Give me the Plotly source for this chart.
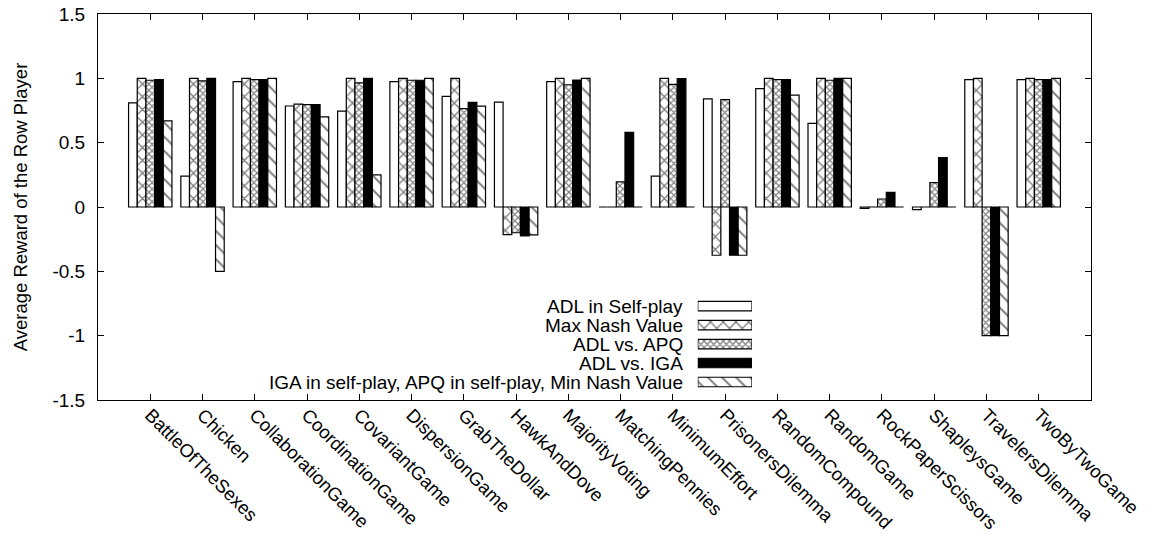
import plotly.graph_objects as go

categories = ["BattleOfTheSexes", "Chicken", "CollaborationGame", "CoordinationGame",
              "CovariantGame", "DispersionGame", "GrabTheDollar", "HawkAndDove",
              "MajorityVoting", "MatchingPennies", "MinimumEffort", "PrisonersDilemma",
              "RandomCompound", "RandomGame", "RockPaperScissors", "ShapleysGame",
              "TravelersDilemma", "TwoByTwoGame"]

adl_self = [0.81, 0.24, 0.975, 0.785, 0.745, 0.975, 0.86, 0.815, 0.975, 0.0, 0.24, 0.84,
            0.92, 0.65, -0.01, -0.02, 0.99, 0.99]
max_nash = [1.0, 1.0, 1.0, 0.80, 1.0, 1.0, 1.0, -0.215, 1.0, 0.0, 1.0, -0.375,
            1.0, 1.0, 0.0, 0.0, 1.0, 1.0]
adl_apq = [0.985, 0.98, 0.99, 0.795, 0.965, 0.985, 0.765, -0.2, 0.95, 0.195, 0.953, 0.835,
           0.99, 0.985, 0.062, 0.19, -1.0, 0.99]
adl_iga = [0.99, 1.0, 0.99, 0.795, 1.0, 0.985, 0.813, -0.224, 0.987, 0.58, 0.998, -0.375,
           0.99, 1.0, 0.114, 0.384, -1.0, 0.99]
min_nash = [0.67, -0.5, 1.0, 0.70, 0.25, 1.0, 0.784, -0.216, 1.0, 0.0, 0.0, -0.375,
            0.87, 1.0, 0.0, 0.0, -1.0, 1.0]

series_names = ["ADL in Self-play", "Max Nash Value", "ADL vs. APQ", "ADL vs. IGA",
                "IGA in self-play, APQ in self-play, Min Nash Value"]
series_values = [adl_self, max_nash, adl_apq, adl_iga, min_nash]

FONT = "Liberation Sans, Arial, Helvetica, sans-serif"
FS = 19

def marker_for(i):
    line = dict(color="black", width=1.2)
    if i == 0:
        return dict(color="white", line=line)
    if i == 1:
        return dict(color="white", line=line,
                    pattern=dict(shape="x", size=9, solidity=0.28, fgcolor="black",
                                 bgcolor="white", fillmode="overlay"))
    if i == 2:
        return dict(color="white", line=line,
                    pattern=dict(shape="x", size=4.5, solidity=0.45, fgcolor="black",
                                 bgcolor="white", fillmode="overlay"))
    if i == 3:
        return dict(color="black", line=line)
    return dict(color="white", line=line,
                pattern=dict(shape="\\", size=10, solidity=0.2, fgcolor="black",
                             bgcolor="white", fillmode="overlay"))

fig = go.Figure()
for i, (name, vals) in enumerate(zip(series_names, series_values)):
    fig.add_trace(go.Bar(x=categories, y=vals, name=name, marker=marker_for(i),
                         showlegend=False, xaxis="x", yaxis="y"))

# custom gnuplot-style key: samples drawn as bars on an overlay axis
legend_len = [1, 1, 1, 1, 1]
for i, name in enumerate(series_names):
    fig.add_trace(go.Bar(x=[legend_len[i]], y=[i], orientation="h", base=0,
                         width=0.5, offset=-0.25, marker=marker_for(i),
                         showlegend=False, xaxis="x2", yaxis="y2", hoverinfo="skip"))
    fig.add_annotation(text=name, xref="paper", yref="y2", x=0.591, y=i,
                       xanchor="right", yanchor="middle", showarrow=False,
                       font=dict(family=FONT, size=FS, color="black"))

fig.update_layout(
    width=1153, height=537,
    margin=dict(l=98, r=62, t=14, b=137),
    paper_bgcolor="white", plot_bgcolor="white",
    font=dict(family=FONT, size=FS, color="black"),
    barmode="group", bargap=0.17, bargroupgap=0,
    xaxis=dict(range=[-1, 18], showline=True, mirror="ticks", linecolor="black",
               linewidth=1, ticks="inside", ticklen=6, tickcolor="black",
               tickangle=45, showgrid=False, zeroline=False, automargin=False,
               ticklabelstandoff=-4,
               tickfont=dict(family=FONT, size=18.5)),
    yaxis=dict(range=[-1.5, 1.5], tickvals=[-1.5, -1, -0.5, 0, 0.5, 1, 1.5],
               ticktext=["-1.5", "-1", "-0.5", "0", "0.5", "1", "1.5"],
               showline=True, mirror="ticks", linecolor="black", linewidth=1,
               ticks="inside", ticklen=6, tickcolor="black", showgrid=False,
               zeroline=False, automargin=False, ticklabelstandoff=8,
               title=dict(text="Average Reward of the Row Player", standoff=19,
                          font=dict(family=FONT, size=18.5))),
    xaxis2=dict(domain=[0.604, 0.6586], range=[0, 1], visible=False, anchor="y2"),
    yaxis2=dict(domain=[0.022, 0.268], range=[4.5, -0.5], visible=False, anchor="x2"),
)

fig.write_html("out.html")
